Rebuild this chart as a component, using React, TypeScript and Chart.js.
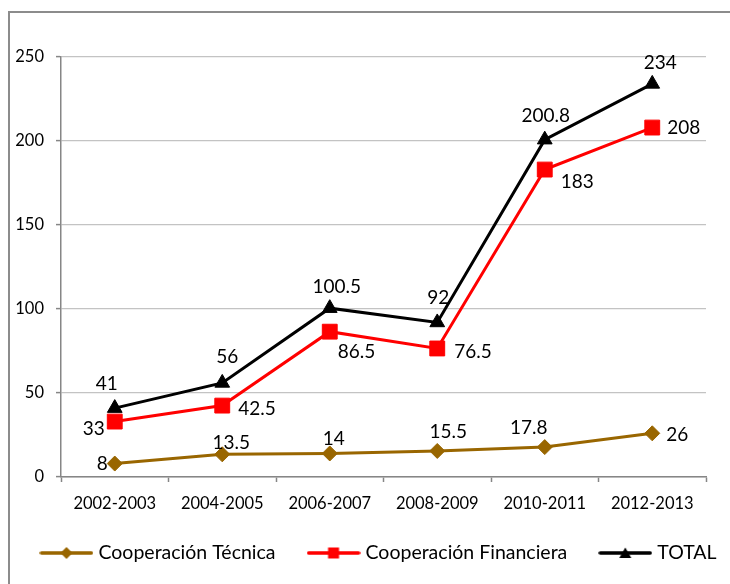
import React, { useEffect, useRef } from 'react';
import { Chart, registerables } from 'chart.js';

Chart.register(...registerables);

// ---- data ----
const categories = ['2002-2003', '2004-2005', '2006-2007', '2008-2009', '2010-2011', '2012-2013'];
const seriesNames = ['Cooperación Técnica', 'Cooperación Financiera', 'TOTAL'];
const tecnica = [8, 13.5, 14, 15.5, 17.8, 26];
const financiera = [33, 42.5, 86.5, 76.5, 183, 208];
const total = [41, 56, 100.5, 92, 200.8, 234];
const yTickValues = [0, 50, 100, 150, 200, 250];

// ---- styles ----
const FONT = 'Lato, "Noto Sans", sans-serif';
const COLORS = ['#996600', '#ff0000', '#000000'];
const AXIS_COLOR = '#868686';
const FRAME_COLOR = '#8c8c8c';
const GRID_COLOR = '#c3c3c3';
const LABEL_SIZE = 19;
const TICK_SIZE = 16.5;
const LEGEND_SIZE = 19.5;
const LEGEND_CENTER_X = 370;
const LEGEND_Y = 542;
const LEGEND_LINE = 54;
const LEGEND_TEXT_GAP = 5;
const LEGEND_ITEM_GAP = 31;

type Place = { dx: number; dy: number; align: CanvasTextAlign };
// label placement relative to each point (style only)
const labelPlacement: Place[][] = [
  [
    { dx: -7, dy: 0, align: 'right' },
    { dx: 9, dy: -11, align: 'center' },
    { dx: 4, dy: -15, align: 'center' },
    { dx: 11, dy: -19, align: 'center' },
    { dx: -16, dy: -19, align: 'center' },
    { dx: 14, dy: 2, align: 'left' },
  ],
  [
    { dx: -10, dy: 7, align: 'right' },
    { dx: 16, dy: 3, align: 'left' },
    { dx: 8, dy: 20, align: 'left' },
    { dx: 17, dy: 3, align: 'left' },
    { dx: 16, dy: 12, align: 'left' },
    { dx: 15, dy: 0, align: 'left' },
  ],
  [
    { dx: -8, dy: -24, align: 'center' },
    { dx: 5, dy: -26, align: 'center' },
    { dx: 7, dy: -21, align: 'center' },
    { dx: 1, dy: -25, align: 'center' },
    { dx: 1, dy: -24, align: 'center' },
    { dx: 8, dy: -21, align: 'center' },
  ],
];

function makeLegendIcon(kind: 'diamond' | 'square' | 'triangle', color: string): HTMLCanvasElement {
  const c = document.createElement('canvas');
  c.width = LEGEND_LINE;
  c.height = 16;
  const g = c.getContext('2d')!;
  g.strokeStyle = color;
  g.fillStyle = color;
  g.lineWidth = 3.5;
  g.lineCap = 'round';
  g.beginPath();
  g.moveTo(2, 8);
  g.lineTo(LEGEND_LINE - 2, 8);
  g.stroke();
  g.beginPath();
  const cx = LEGEND_LINE / 2;
  if (kind === 'diamond') {
    g.moveTo(cx, 2);
    g.lineTo(cx + 6, 8);
    g.lineTo(cx, 14);
    g.lineTo(cx - 6, 8);
  } else if (kind === 'square') {
    g.rect(cx - 5.5, 2.5, 11, 11);
  } else {
    g.moveTo(cx, 2.5);
    g.lineTo(cx + 6, 13);
    g.lineTo(cx - 6, 13);
  }
  g.closePath();
  g.fill();
  return c;
}

const framePlugin = {
  id: 'outerFrame',
  beforeDraw(chart: any) {
    const ctx = chart.ctx as CanvasRenderingContext2D;
    ctx.save();
    ctx.strokeStyle = FRAME_COLOR;
    ctx.lineWidth = 2;
    ctx.beginPath();
    ctx.moveTo(1, chart.height);
    ctx.lineTo(1, 1);
    ctx.lineTo(chart.width, 1);
    ctx.stroke();
    ctx.restore();
  },
};

const labelPlugin = {
  id: 'pointValueLabels',
  afterDatasetsDraw(chart: any) {
    const ctx = chart.ctx as CanvasRenderingContext2D;
    chart.data.datasets.forEach((ds: any, di: number) => {
      const meta = chart.getDatasetMeta(di);
      meta.data.forEach((pt: any, i: number) => {
        const p = labelPlacement[di][i];
        ctx.save();
        ctx.font = `${LABEL_SIZE}px ${FONT}`;
        ctx.fillStyle = '#000';
        ctx.textAlign = p.align;
        ctx.textBaseline = 'middle';
        ctx.fillText(String(ds.data[i]), pt.x + p.dx, pt.y + p.dy);
        ctx.restore();
      });
    });
  },
};

function makeLegendPlugin(icons: HTMLCanvasElement[]) {
  return {
    id: 'lineMarkerLegend',
    afterDraw(chart: any) {
      const ctx = chart.ctx as CanvasRenderingContext2D;
      const names: string[] = chart.data.datasets.map((d: any) => d.label);
      ctx.save();
      ctx.font = `${LEGEND_SIZE}px ${FONT}`;
      const widths = names.map((n) => ctx.measureText(n).width);
      const full =
        widths.reduce((a, w) => a + LEGEND_LINE + LEGEND_TEXT_GAP + w, 0) +
        LEGEND_ITEM_GAP * (names.length - 1);
      let x = LEGEND_CENTER_X - full / 2;
      ctx.fillStyle = '#000';
      ctx.textAlign = 'left';
      ctx.textBaseline = 'middle';
      names.forEach((n, i) => {
        ctx.drawImage(icons[i], x, LEGEND_Y - icons[i].height / 2);
        x += LEGEND_LINE + LEGEND_TEXT_GAP;
        ctx.fillText(n, x, LEGEND_Y);
        x += widths[i] + LEGEND_ITEM_GAP;
      });
      ctx.restore();
    },
  };
}

export default function App() {
  const ref = useRef<HTMLCanvasElement | null>(null);

  useEffect(() => {
    document.documentElement.style.overflow = 'hidden';
    document.body.style.overflow = 'hidden';
    if (!ref.current) return;
    const icons = [
      makeLegendIcon('diamond', COLORS[0]),
      makeLegendIcon('square', COLORS[1]),
      makeLegendIcon('triangle', COLORS[2]),
    ];
    const values = [tecnica, financiera, total];
    const pointStyles = ['rectRot', 'rect', 'triangle'];
    const pointRadii = [7.5, 10.5, 8.5];

    const chart = new Chart(ref.current, {
      type: 'line',
      data: {
        labels: categories,
        datasets: values.map((v, i) => ({
          label: seriesNames[i],
          data: v,
          borderColor: COLORS[i],
          backgroundColor: COLORS[i],
          borderWidth: 3,
          pointStyle: pointStyles[i] as any,
          pointRadius: pointRadii[i],
          pointBorderWidth: 1,
          pointBackgroundColor: COLORS[i],
          pointBorderColor: COLORS[i],
          tension: 0,
        })),
      },
      options: {
        animation: false,
        responsive: false,
        layout: { padding: { left: 0, right: 42, top: 46, bottom: 64 } },
        plugins: {
          tooltip: { enabled: false },
          legend: { display: false },
        },
        scales: {
          x: {
            type: 'category',
            offset: true,
            afterFit: (s: any) => {
              s.height = 45;
            },
            grid: {
              offset: true,
              drawOnChartArea: false,
              drawTicks: true,
              tickLength: 5,
              tickColor: AXIS_COLOR,
              tickWidth: 1.5,
            },
            border: { color: AXIS_COLOR, width: 1.5 },
            ticks: {
              color: '#000',
              font: { family: FONT, size: TICK_SIZE },
              padding: 12,
              maxRotation: 0,
              autoSkip: false,
            },
          },
          y: {
            min: 0,
            max: 250,
            afterFit: (s: any) => {
              s.width = 53;
            },
            afterBuildTicks: (s: any) => {
              s.ticks = yTickValues.map((v) => ({ value: v }));
            },
            grid: {
              color: GRID_COLOR,
              lineWidth: 1.2,
              tickLength: 5,
              tickColor: AXIS_COLOR,
              tickWidth: 1.5,
            },
            border: { color: AXIS_COLOR, width: 1.5 },
            ticks: {
              color: '#000',
              font: { family: FONT, size: TICK_SIZE },
              padding: 12,
            },
          },
        },
      },
      plugins: [framePlugin, labelPlugin, makeLegendPlugin(icons)],
    });
    return () => chart.destroy();
  }, []);

  return (
    <div
      style={{
        position: 'absolute',
        left: 0,
        top: 0,
        width: 730,
        height: 584,
        overflow: 'hidden',
        background: '#fff',
      }}
    >
      <canvas
        ref={ref}
        width={740}
        height={575}
        style={{ position: 'absolute', left: 8, top: 11, display: 'block' }}
      />
    </div>
  );
}
